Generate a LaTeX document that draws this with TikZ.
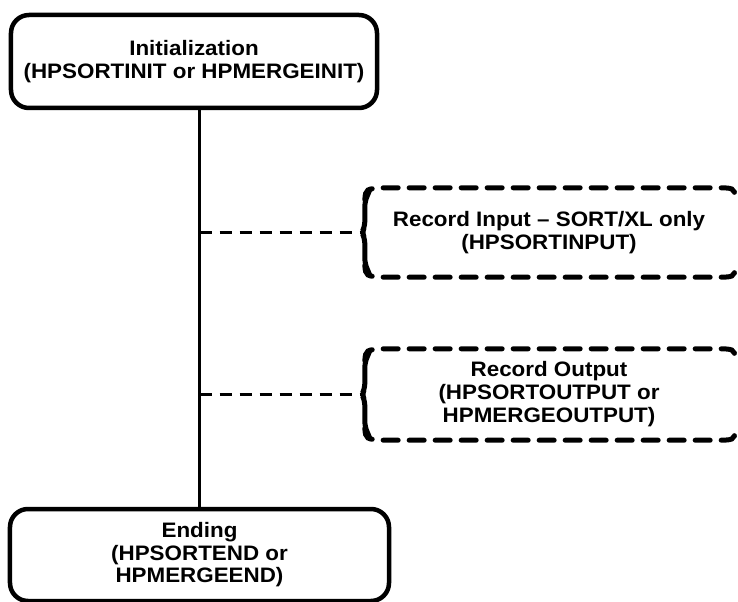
\documentclass[tikz,border=0pt]{standalone}
\usepackage{fontspec}
\setmainfont{Liberation Sans}[FakeStretch=1.07]
\usetikzlibrary{calc}
\tikzset{
  solidbox/.style={draw=black, line width=4.5bp, rounded corners=18bp, align=center,
    font=\bfseries\fontsize{21}{22.5}\selectfont, inner sep=0pt},
  dashbox/.style={align=center, font=\bfseries\fontsize{21}{23}\selectfont, inner sep=0pt},
  dashedge/.style={line width=5bp, line cap=round, dash pattern=on 15bp off 11bp},
  braceedge/.style={line width=5bp, line cap=round, rounded corners=5bp},
  trunk/.style={line width=2.5bp},
  branch/.style={line width=2.5bp, dash pattern=on 12bp off 8bp},
}
\newcommand\dashoutline[1]{%
  \draw[dashedge] ($(#1.north west)+(3,12)$) .. controls ($(#1.north west)+(4,1)$) .. ($(#1.north west)+(22,0)$)
     -- ($(#1.north east)+(-22,0)$) .. controls ($(#1.north east)+(-2,0)$) .. ($(#1.north east)+(-1,10)$);
  \draw[dashedge] ($(#1.south west)+(3,-12)$) .. controls ($(#1.south west)+(4,-1)$) .. ($(#1.south west)+(22,0)$)
     -- ($(#1.south east)+(-22,0)$) .. controls ($(#1.south east)+(-2,0)$) .. ($(#1.south east)+(-1,-10)$);
  \draw[braceedge] ($(#1.north west)+(8,2)$) -- ($(#1.north west)+(3,14)$) -- ($(#1.west)+(3,-6)$) -- (#1.west) -- ($(#1.west)+(3,6)$) -- ($(#1.south west)+(3,-14)$) -- ($(#1.south west)+(8,-2)$);
}
\begin{document}
\begin{tikzpicture}[x=1bp, y=-1bp]
\useasboundingbox (0,0) rectangle (738,602);
\node[solidbox, minimum width=366bp, minimum height=93bp] (init) at (194,61.5)
  {Initialization\\(HPSORTINIT or HPMERGEINIT)};
\node[solidbox, minimum width=379bp, minimum height=92bp] (ending) at (199.5,555)
  {Ending\\(HPSORTEND or\\HPMERGEEND)};
\node[dashbox, minimum width=374bp, minimum height=89bp] (rin) at (549,232.5)
  {Record Input – SORT/XL only\\(HPSORTINPUT)};
\node[dashbox, minimum width=374bp, minimum height=91bp] (rout) at (549,394.5)
  {Record Output\\(HPSORTOUTPUT or\\HPMERGEOUTPUT)};
\dashoutline{rin}
\dashoutline{rout}
\coordinate (jin) at (ending.north |- rin.west);
\coordinate (jout) at (ending.north |- rout.west);
\draw[trunk] (init.south -| ending.north) -- (ending.north);
\draw[branch] (jin) -- (rin.west);
\draw[branch] (jout) -- (rout.west);
\end{tikzpicture}
\end{document}
